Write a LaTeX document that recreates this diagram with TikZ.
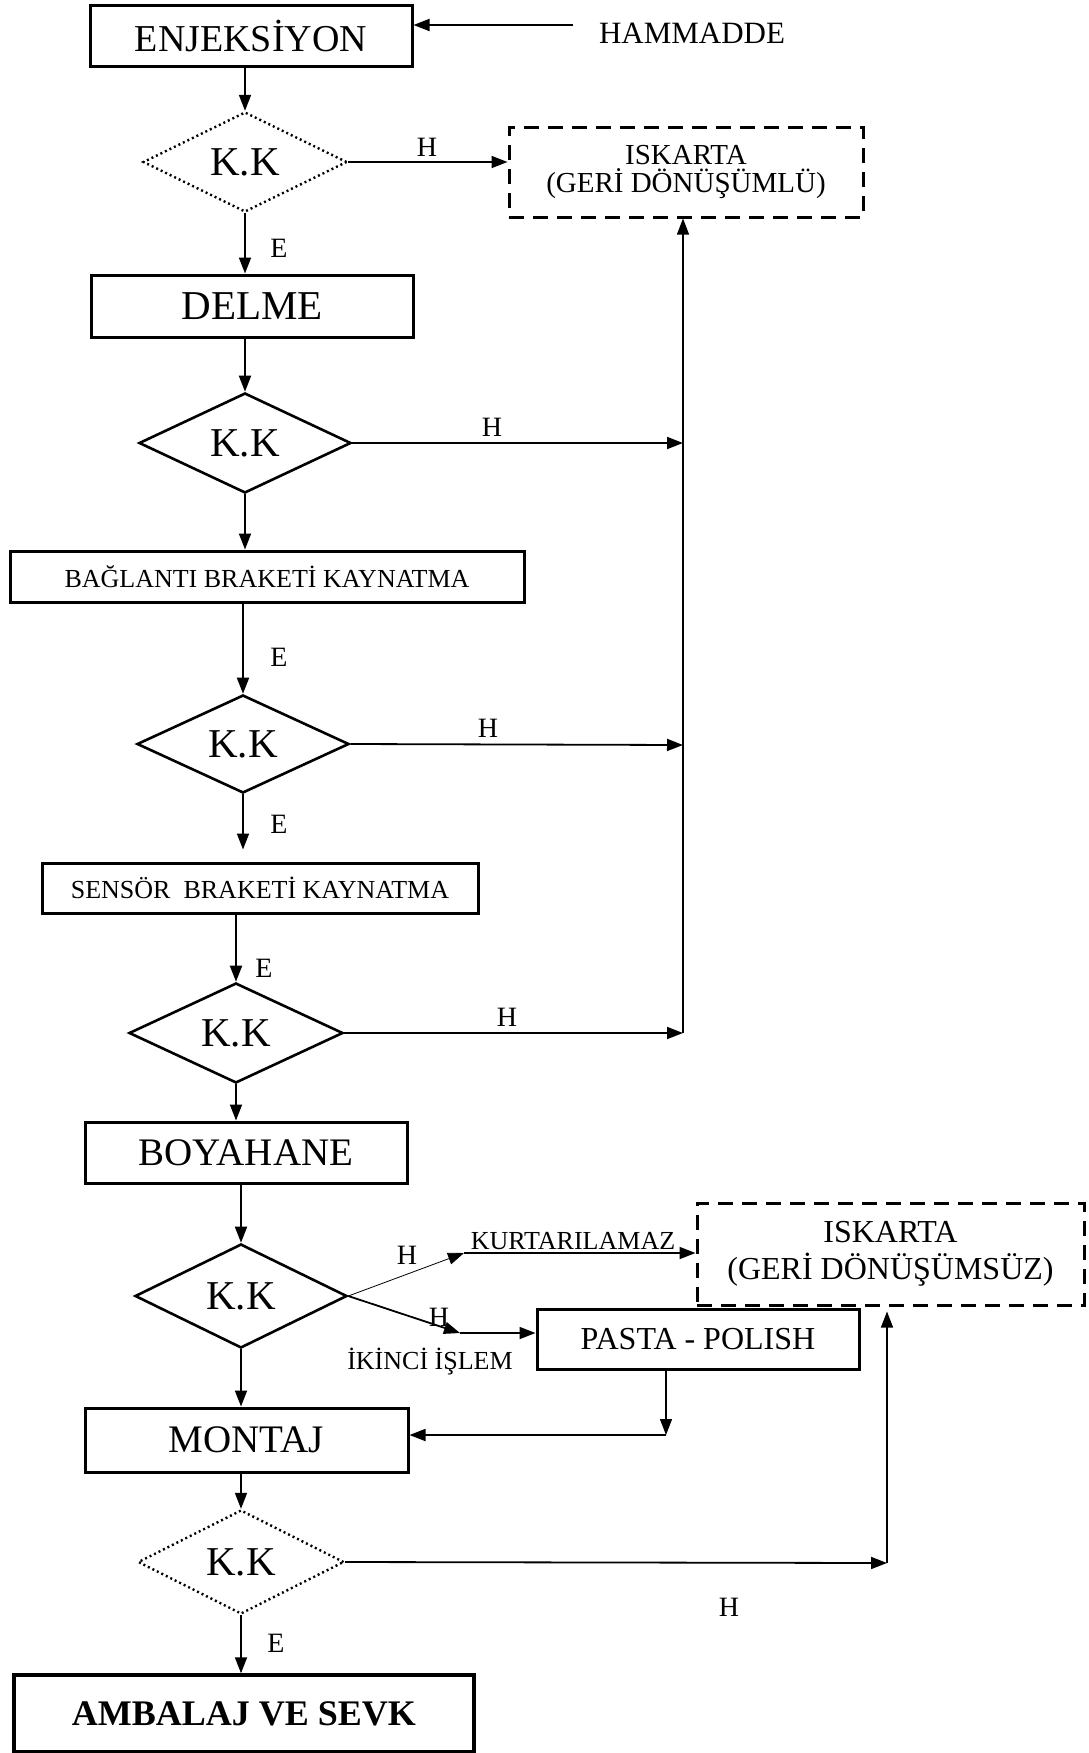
\documentclass[tikz,border=0pt]{standalone}
\usepackage{fontspec}
\setmainfont{Liberation Serif}
\usetikzlibrary{shapes.geometric,arrows.meta}
\newcommand{\fsz}[1]{\fontsize{#1}{#1}\selectfont}
\begin{document}
\begin{tikzpicture}[x=1pt,y=-1pt,
  box/.style={draw, rectangle, line width=3pt, inner sep=0pt},
  dbox/.style={draw, rectangle, line width=3pt, inner sep=0pt, dash pattern=on 15pt off 9pt, align=center},
  kk/.style={draw, diamond, line width=2.6pt, inner sep=0pt, font=\fsz{41}},
  dkk/.style={kk, line width=2.4pt, dash pattern=on 2pt off 3pt},
  arr/.style={-{Triangle[length=16pt,width=12pt]}, line width=1.8pt},
  tarr/.style={-{Triangle[length=16pt,width=12pt]}, line width=1.2pt},
  lbl/.style={inner sep=0pt, font=\fsz{28}},
  slbl/.style={inner sep=0pt, font=\fsz{26}}]
\useasboundingbox (0,0) rectangle (1088,1753);

% nodes
\node[box, minimum width=322pt, minimum height=61pt, font=\fsz{38}] (enj) at (251,36.5) {ENJEKSİYON};
\node[inner sep=0pt, font=\fsz{31}] (ham) at (692,33) {HAMMADDE};
\coordinate (hs) at (573,25);

\node[dkk, minimum width=204pt, minimum height=100pt] (kk1) at (245,162) {K.K};
\node[dbox, minimum width=354pt, minimum height=90pt, font=\fontsize{29}{28}\selectfont] (isk1) at (686,172) {ISKARTA\\(GERİ DÖNÜŞÜMLÜ)};

\node[box, minimum width=322pt, minimum height=62pt, font=\fsz{41}] (delme) at (252,306) {DELME};
\node[kk, minimum width=212pt, minimum height=100pt] (kk2) at (245,443) {K.K};
\coordinate (r2) at (683,443);

\node[box, minimum width=514pt, minimum height=51pt, font=\fsz{26}] (bag) at (267,576.5) {BAĞLANTI BRAKETİ KAYNATMA};
\node[kk, minimum width=212pt, minimum height=98pt] (kk3) at (243,744) {K.K};
\coordinate (r3) at (683,745);

\node[box, minimum width=436pt, minimum height=50pt, font=\fsz{26}] (sen) at (260,888) {SENSÖR~~BRAKETİ KAYNATMA};
\node[kk, minimum width=214pt, minimum height=100pt] (kk4) at (236,1033) {K.K};
\coordinate (r4) at (683,1033);

\node[box, minimum width=322pt, minimum height=61pt, font=\fsz{39}] (boy) at (246,1152.5) {BOYAHANE};
\node[kk, minimum width=212pt, minimum height=104pt] (kk5) at (241,1296) {K.K};
\coordinate (k1) at (464,1253);
\coordinate (k2) at (460,1333);
\node[dbox, minimum width=387pt, minimum height=102pt, font=\fontsize{32}{37}\selectfont] (isk2) at (890.5,1254) {ISKARTA\\(GERİ DÖNÜŞÜMSÜZ)};
\node[box, minimum width=322pt, minimum height=60pt, font=\fsz{32}] (pas) at (698,1339) {PASTA - POLISH};
\coordinate (k3) at (666,1435);

\node[box, minimum width=323pt, minimum height=64pt, font=\fsz{39}] (mon) at (246.5,1440) {MONTAJ};
\node[dkk, minimum width=206pt, minimum height=104pt] (kk6) at (241,1562) {K.K};
\coordinate (r6) at (887,1563);
\node[box, line width=3.5pt, minimum width=460pt, minimum height=77pt, font=\bfseries\fsz{36}] (amb) at (244,1713.5) {AMBALAJ VE SEVK};

% labels
\node[lbl] at (427,147) {H};
\node[lbl] at (279,248) {E};
\node[lbl] at (492,427) {H};
\node[lbl] at (279,657) {E};
\node[lbl] at (488,728) {H};
\node[lbl] at (279,824) {E};
\node[lbl] at (264,968) {E};
\node[lbl] at (507,1017) {H};
\node[lbl] at (407,1255) {H};
\node[lbl] at (439,1317) {H};
\node[slbl] at (573,1241) {KURTARILAMAZ};
\node[slbl] at (430,1362) {İKİNCİ İŞLEM};
\node[lbl] at (729,1607) {H};
\node[lbl] at (276,1643) {E};

% connectors
\draw[arr] (hs) -- (enj.east |- hs);
\draw[arr] (kk1.north |- enj.south) -- (kk1.north);
\draw[arr] (kk1.east) -- (kk1.east -| isk1.west);
\draw[arr] (kk1.south) -- (kk1.south |- delme.north);
\draw[arr] (kk2.north |- delme.south) -- (kk2.north);
\draw[arr] (kk2.east) -- (r2);
\draw[arr] (kk2.south) -- (kk2.south |- bag.north);
\draw[arr] (kk3.north |- bag.south) -- (kk3.north);
\draw[arr] (kk3.east) -- (r3);
\draw[arr, shorten >=12pt] (kk3.south) -- (kk3.south |- sen.north);
\draw[arr] (kk4.north |- sen.south) -- (kk4.north);
\draw[arr] (kk4.east) -- (r4);
\draw[tarr] (r4) -- (r4 |- isk1.south);
\draw[arr] (kk4.south) -- (kk4.south |- boy.north);
\draw[arr] (kk5.north |- boy.south) -- (kk5.north);
\draw[-{Triangle[length=16pt,width=12pt]}, line width=0.8pt] (kk5.east) -- (k1);
\draw[arr] (k1) -- (k1 -| isk2.west);
\draw[arr] (kk5.east) -- (k2);
\draw[arr] (k2) -- (k2 -| pas.west);
\draw[tarr] (k3 |- pas.south) -- (k3);
\draw[arr] (k3) -- (k3 -| mon.east);
\draw[arr] (kk5.south) -- (kk5.south |- mon.north);
\draw[arr] (kk6.north |- mon.south) -- (kk6.north);
\draw[arr] (kk6.east) -- (r6);
\draw[tarr, shorten >=5pt] (r6) -- (r6 |- isk2.south);
\draw[arr] (kk6.south) -- (kk6.south |- amb.north);
\end{tikzpicture}
\end{document}
